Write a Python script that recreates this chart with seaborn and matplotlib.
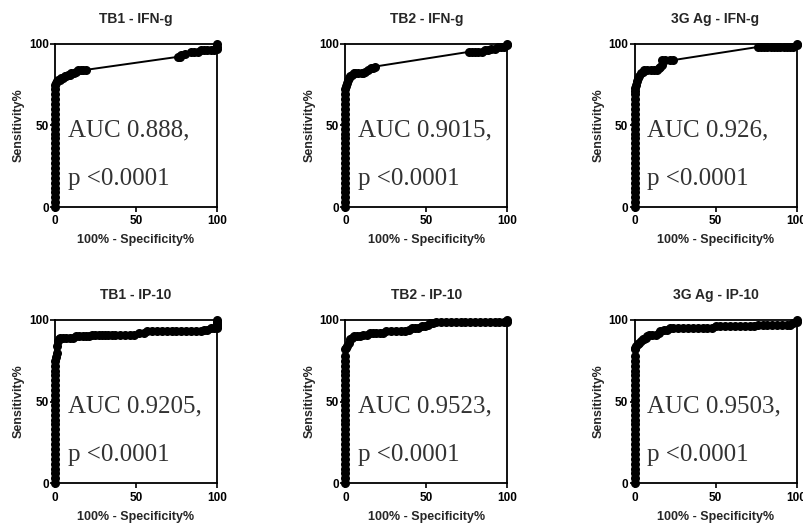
import matplotlib
matplotlib.use("Agg")
import matplotlib.pyplot as plt
import seaborn as sns

# --- ROC data (100% - Specificity%, Sensitivity%) ---
titles = ["TB1 - IFN-g", "TB2 - IFN-g", "3G Ag - IFN-g",
          "TB1 - IP-10", "TB2 - IP-10", "3G Ag - IP-10"]
auc_labels = ["AUC 0.888,", "AUC 0.9015,", "AUC 0.926,",
              "AUC 0.9205,", "AUC 0.9523,", "AUC 0.9503,"]
p_labels = ["p <0.0001"] * 6

tb1_ifn_x = [0, 0, 0, 0, 0, 0, 0, 0, 0, 0, 0, 0, 0, 0, 0, 0, 0, 0, 0, 0, 0, 0, 0, 0, 0, 0,
             0.5, 1, 2, 3, 4, 5, 6, 7, 8, 9, 10, 12, 13, 14, 16, 17, 19,
             76, 77, 78, 80, 84, 86, 88, 90, 92, 94, 96, 98, 99, 100, 100, 100]
tb1_ifn_y = [0, 3, 6, 9, 12, 15, 18, 21, 24, 27, 30, 33, 36, 39, 42, 45, 48, 51, 54, 57, 60, 63, 66, 69, 72, 75,
             76, 77, 78, 78, 79, 79, 80, 80, 81, 81, 82, 82, 83, 84, 84, 84, 84,
             92, 92, 93, 94, 95, 95, 95, 96, 96, 96, 96, 96, 97, 97, 98, 100]

tb2_ifn_x = [0, 0, 0, 0, 0, 0, 0, 0, 0, 0, 0, 0, 0, 0, 0, 0, 0, 0, 0, 0, 0, 0, 0, 0, 0,
             0.5, 1, 1.5, 2, 3, 4, 5, 6, 8, 10, 11, 12, 14, 16, 17, 18,
             76, 78, 80, 82, 84, 86, 88, 90, 92, 94, 96, 98, 100, 100]
tb2_ifn_y = [0, 3, 6, 9, 12, 15, 18, 21, 24, 27, 30, 33, 36, 39, 42, 45, 48, 51, 54, 57, 60, 63, 66, 69, 72,
             74, 76, 78, 79, 80, 81, 82, 82, 82, 82, 82, 83, 84, 85, 85, 86,
             95, 95, 95, 95, 95, 96, 96, 97, 97, 98, 98, 98, 99, 100]

g3_ifn_x = [0, 0, 0, 0, 0, 0, 0, 0, 0, 0, 0, 0, 0, 0, 0, 0, 0, 0, 0, 0, 0, 0, 0, 0, 0,
            0.5, 1, 1.5, 2, 3, 4, 5, 6, 8, 10, 12, 14, 15, 16, 17, 17, 19, 22, 24,
            76, 78, 80, 82, 84, 86, 88, 90, 92, 94, 96, 98, 100, 100]
g3_ifn_y = [0, 3, 6, 9, 12, 15, 18, 21, 24, 27, 30, 33, 36, 39, 42, 45, 48, 51, 54, 57, 60, 63, 66, 69, 71,
            73, 75, 77, 79, 80, 82, 83, 84, 84, 84, 84, 84, 85, 86, 87, 90, 90, 90, 90,
            98, 98, 98, 98, 98, 98, 98, 98, 98, 98, 98, 98, 99, 100]

tb1_ip_x = [0, 0, 0, 0, 0, 0, 0, 0, 0, 0, 0, 0, 0, 0, 0, 0, 0, 0, 0, 0, 0, 0, 0, 0, 0, 0,
            0.5, 1, 1.5, 2, 2.5, 3, 5, 7, 9, 11, 13, 15, 17, 19, 21, 23, 25, 27, 29, 31, 33, 35, 37,
            40, 43, 46, 49, 52, 55, 57, 60, 63, 66, 69, 72, 75, 78, 81, 84, 87, 90, 92, 94, 96, 98,
            100, 100, 100, 100, 100, 100]
tb1_ip_y = [0, 3, 6, 9, 12, 15, 18, 21, 24, 27, 30, 33, 36, 39, 42, 45, 48, 51, 54, 57, 60, 63, 66, 69, 72, 75,
            77, 80, 84, 87, 88, 89, 89, 89, 89, 89, 90, 90, 90, 90, 90, 91, 91, 91, 91, 91, 91, 91, 91,
            91, 91, 91, 91, 92, 92, 93, 93, 93, 93, 93, 93, 93, 93, 93, 93, 93, 93, 94, 94, 95, 95,
            95, 96, 97, 98, 99, 100]

tb2_ip_x = [0, 0, 0, 0, 0, 0, 0, 0, 0, 0, 0, 0, 0, 0, 0, 0, 0, 0, 0, 0, 0, 0, 0, 0, 0, 0, 0, 0,
            0.5, 1, 2, 3, 4, 5, 7, 9, 11, 13, 15, 17, 19, 21, 23, 25, 28, 31, 34, 37, 39, 41, 43, 45,
            47, 49, 51, 52, 54, 56, 59, 62, 65, 68, 71, 74, 77, 80, 83, 86, 89, 92, 95, 98, 100, 100]
tb2_ip_y = [0, 3, 6, 9, 12, 15, 18, 21, 24, 27, 30, 33, 36, 39, 42, 45, 48, 51, 54, 57, 60, 63, 66, 69, 72, 75, 78, 82,
            83, 84, 86, 88, 89, 90, 90, 90, 91, 91, 92, 92, 92, 92, 92, 93, 93, 93, 93, 93, 94, 95, 95, 95,
            96, 96, 97, 98, 98, 99, 99, 99, 99, 99, 99, 99, 99, 99, 99, 99, 99, 99, 99, 99, 99, 100]

g3_ip_x = [0, 0, 0, 0, 0, 0, 0, 0, 0, 0, 0, 0, 0, 0, 0, 0, 0, 0, 0, 0, 0, 0, 0, 0, 0, 0, 0, 0,
           0.5, 1, 2, 3, 4, 5, 6, 7, 8, 9, 11, 13, 15, 16, 18, 20, 22, 24, 27, 30, 33, 36, 39, 42, 45, 48,
           50, 53, 56, 59, 62, 65, 68, 71, 74, 76, 79, 82, 85, 88, 91, 94, 96, 98, 100, 100]
g3_ip_y = [0, 3, 6, 9, 12, 15, 18, 21, 24, 27, 30, 33, 36, 39, 42, 45, 48, 51, 54, 57, 60, 63, 66, 69, 72, 75, 78, 82,
           83, 84, 85, 86, 87, 88, 88, 89, 90, 91, 91, 91, 92, 93, 94, 94, 95, 95, 95, 95, 95, 95, 95, 95, 95, 95,
           96, 96, 96, 96, 96, 96, 96, 96, 96, 97, 97, 97, 97, 97, 97, 97, 97, 98, 99, 100]

curves_x = [tb1_ifn_x, tb2_ifn_x, g3_ifn_x, tb1_ip_x, tb2_ip_x, g3_ip_x]
curves_y = [tb1_ifn_y, tb2_ifn_y, g3_ifn_y, tb1_ip_y, tb2_ip_y, g3_ip_y]

axis_ticks = [0, 50, 100]

sns.set_theme(style="ticks")
plt.rcParams['font.family'] = ['Liberation Sans', 'DejaVu Sans']

fig = plt.figure(figsize=(8.04, 5.27), dpi=100)

lefts = [0.0684, 0.4297, 0.7892]
bottoms = [0.607, 0.083]
w, h = 0.2015, 0.31

for i in range(6):
    row, col = divmod(i, 3)
    ax = fig.add_axes([lefts[col], bottoms[row], w, h])
    sns.lineplot(x=curves_x[i], y=curves_y[i], estimator=None, sort=False,
                 color="black", linewidth=1.4, marker="o", markersize=6.5,
                 markeredgewidth=0, clip_on=False, ax=ax)
    ax.set_xlim(0, 100)
    ax.set_ylim(0, 100)
    ax.set_xticks(axis_ticks)
    ax.set_yticks(axis_ticks)
    ax.set_xticklabels([str(t) for t in axis_ticks], fontweight="bold", fontsize=8.5)
    ax.set_yticklabels([str(t) for t in axis_ticks], fontweight="bold", fontsize=8.5)
    ax.tick_params(axis="x", direction="out", length=3.5, width=1.2, pad=2.5, colors="black")
    ax.tick_params(axis="y", direction="out", length=3.5, width=1.2, pad=1, colors="black")
    for s in ax.spines.values():
        s.set_linewidth(1.3)
        s.set_color("black")
    ax.set_xlabel("100% - Specificity%", fontweight="bold", fontsize=9, labelpad=5)
    ax.set_ylabel("Sensitivity%", fontweight="bold", fontsize=9, labelpad=3)
    ax.set_title(titles[i], fontweight="bold", fontsize=10, pad=15)
    ax.text(0.08, 0.47, auc_labels[i], transform=ax.transAxes, fontsize=18,
            family="Liberation Serif", va="center", ha="left", color="#333333")
    ax.text(0.08, 0.17, p_labels[i], transform=ax.transAxes, fontsize=18,
            family="Liberation Serif", va="center", ha="left", color="#333333")

fig.savefig("out.png", dpi=100)
